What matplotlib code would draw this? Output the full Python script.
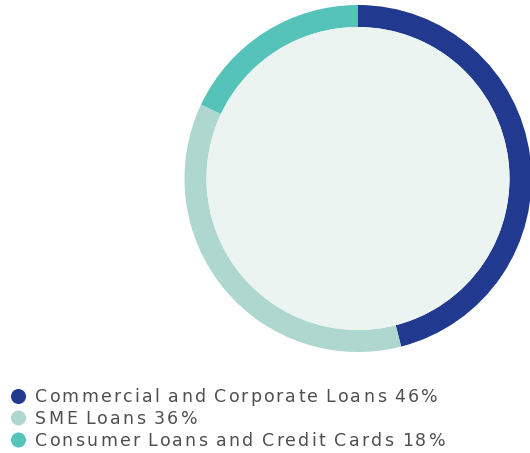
import matplotlib
matplotlib.use('Agg')
import matplotlib.pyplot as plt
from matplotlib.font_manager import FontProperties
from matplotlib.patches import Circle

labels=['Commercial and Corporate Loans','SME Loans','Consumer Loans and Credit Cards']
shares=[46,36,18]
colors=['#213A8F','#ADD7CF','#56C3BA']
centre_fill='#EBF4F1'
text_color='#4F4F4F'

W,H=530,453
fig=plt.figure(figsize=(W/100,H/100),dpi=100)

# donut, placed in pixel coords (centre 358,178.5 radius 173.5)
cx,cy,r=358,178.5,173.5
ax=fig.add_axes([(cx-r)/W,(H-cy-r)/H,2*r/W,2*r/H])
ax.pie(shares,colors=colors,startangle=90,counterclock=False,radius=1,
       wedgeprops=dict(width=22/r,linewidth=0))
ax.add_patch(Circle((0,0),1-22/r,color=centre_fill,linewidth=0,zorder=3))
ax.set_xlim(-1,1)
ax.set_ylim(-1,1)
ax.set_aspect('equal')
ax.axis('off')

# legend with letter spacing, drawn char by char
renderer=fig.canvas.get_renderer()
prop=FontProperties(family='DejaVu Sans',size=12.5)

def width(s):
    return renderer.get_text_width_height_descent(s,prop,ismath=False)[0]

def advance(c):
    a=width('x'+c+'x')-width('xx')
    return a*0.6 if c==' ' else a

def tracked_text(x,y,s,track):
    for c in s:
        if c!=' ':
            fig.text(x/W,1-y/H,c,fontproperties=prop,color=text_color,va='baseline',ha='left')
        x+=advance(c)+track

first=f'{labels[0]} {shares[0]}%'
natural=sum(advance(c) for c in first)
track=(437.5-35-natural)/(len(first)-1)

rows=[396.5,418,440]
for lab,val,col,ym in zip(labels,shares,colors,rows):
    fig.patches.append(Circle((18.5,H-ym),7.5,transform=None,color=col,linewidth=0))
    tracked_text(35,ym+6,f'{lab} {val}%',track)

fig.savefig('out.png',dpi=100)
